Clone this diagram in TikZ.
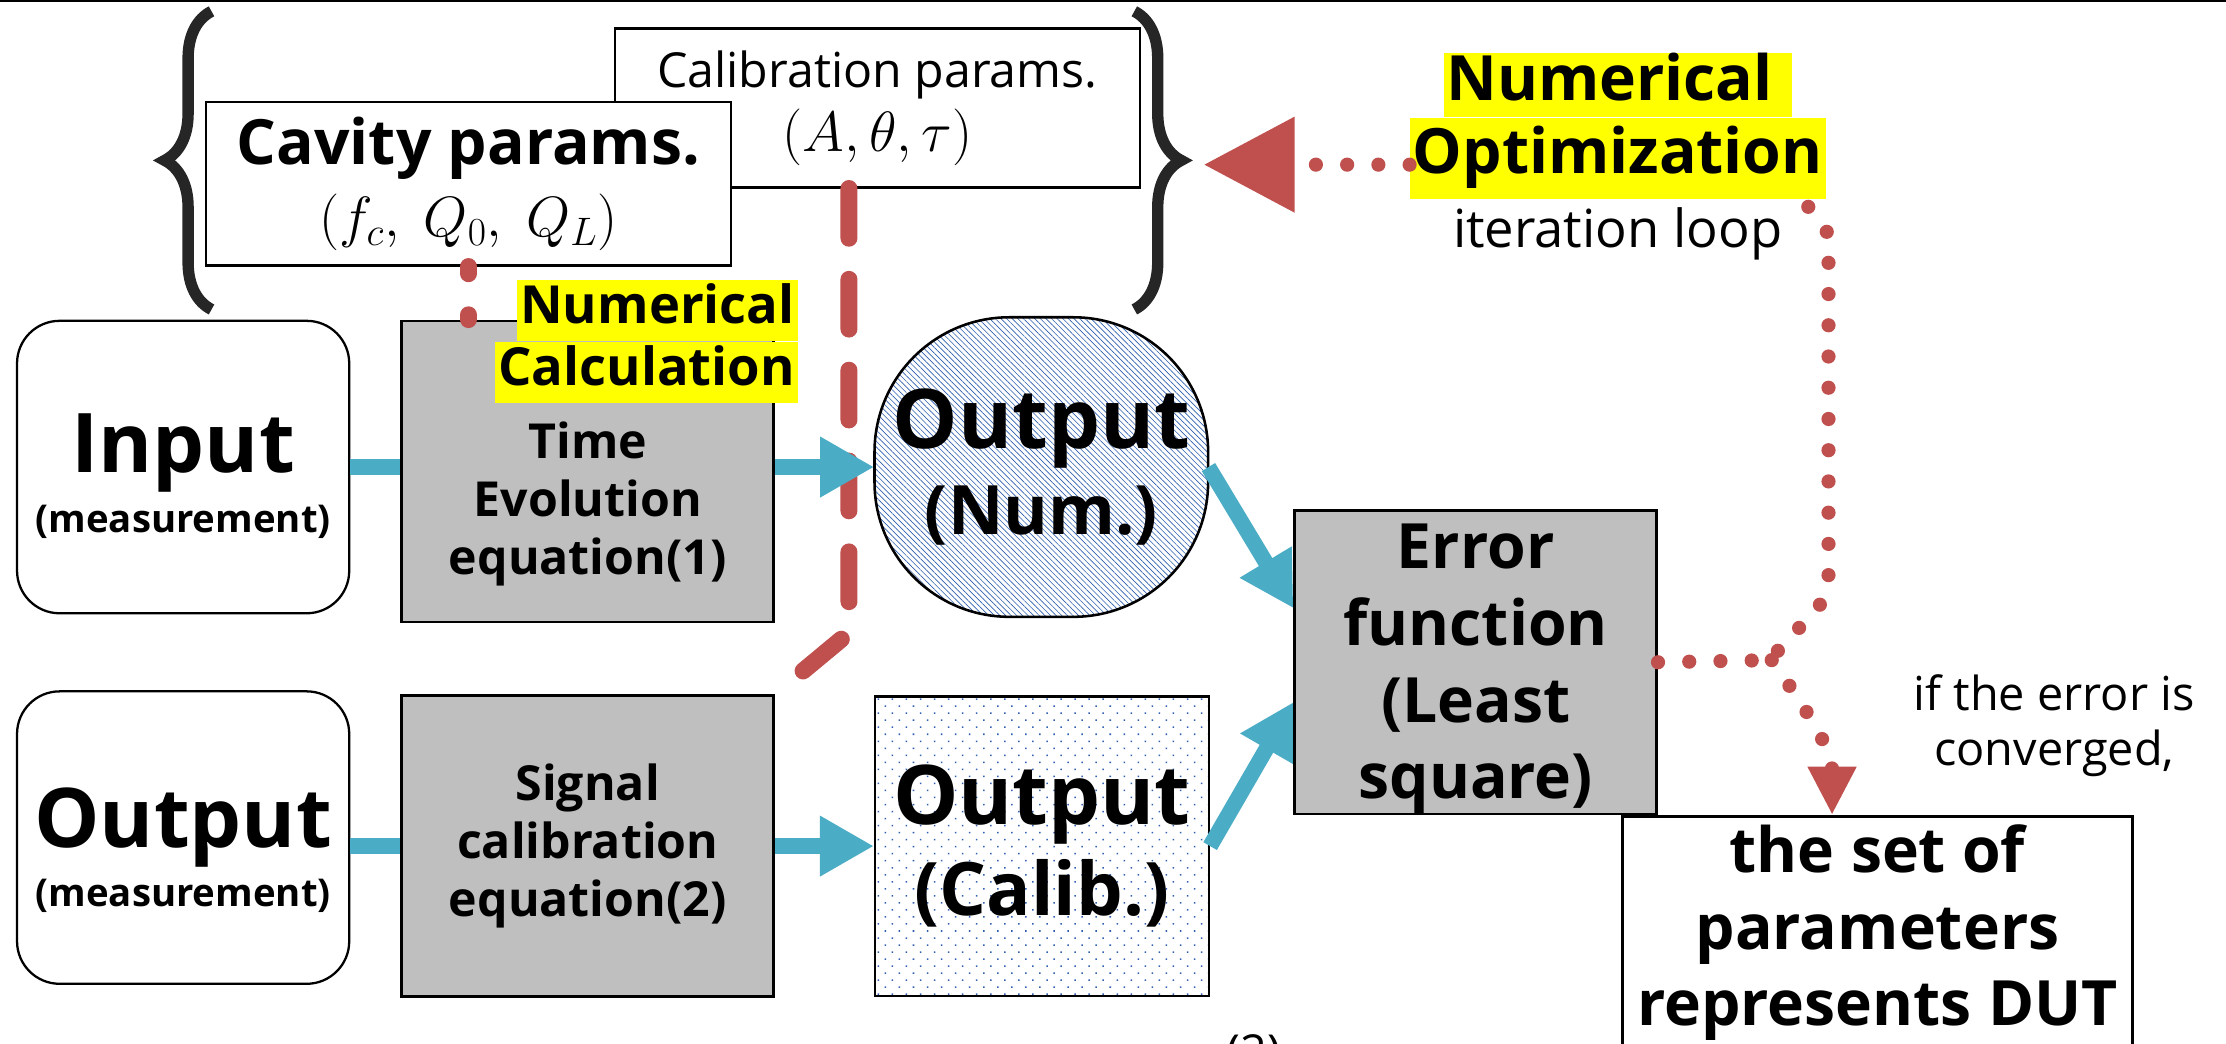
\RequirePackage{fix-cm}
\documentclass[tikz,border=0pt]{standalone}
\usepackage{fontspec}
\setmainfont{Open Sans}
\usepackage{tikz}
\usetikzlibrary{positioning,arrows.meta,patterns.meta,decorations.pathreplacing,calc}

\definecolor{boxgray}{HTML}{BFBFBF}
\definecolor{flowblue}{HTML}{4BACC6}
\definecolor{loopred}{HTML}{C0504D}
\definecolor{hatchblue}{HTML}{2F5FAF}
\definecolor{hlyellow}{HTML}{FFFF00}
\definecolor{bracegray}{HTML}{262626}

\begin{document}
\begin{tikzpicture}[x=1pt, y=1pt,
    every node/.style={align=center, inner sep=0pt},
    txtbox/.style={draw, fill=white, line width=1.6pt},
    inbox/.style={draw, line width=1.6pt, rounded corners=30pt, minimum width=234pt, minimum height=206pt, font=\bfseries\fontsize{27}{42}\selectfont},
    eqbox/.style={draw, line width=1.8pt, fill=boxgray, minimum width=262pt, minimum height=212pt},
    eqtext/.style={font=\bfseries\fontsize{34}{41}\selectfont},
    outbox/.style={draw, line width=1.8pt, minimum width=235pt, minimum height=211pt, font=\bfseries\fontsize{48}{60}\selectfont},
    calchl/.style={fill=hlyellow, inner xsep=2pt, minimum height=43pt, text height=27pt, text depth=8pt, font=\bfseries\fontsize{37}{43}\selectfont},
    opthl/.style={fill=hlyellow, inner xsep=2pt, text height=33pt, text depth=11pt, font=\bfseries\fontsize{44}{50}\selectfont},
    flowline/.style={flowblue, line width=11pt},
    flow/.style={flowline, -{Triangle[length=38pt,width=40pt]}},
    paramline/.style={loopred, line width=12pt, line cap=round, line join=round, dash pattern=on 35pt off 29pt},
    loopdots/.style={loopred, line width=10pt, line cap=round, dash pattern=on 0pt off 22pt},
    bracestyle/.style={bracegray, line width=8pt, decorate, decoration={brace, amplitude=33pt}}
]
    \useasboundingbox (0,0) rectangle (1568,735);
    \draw[line width=1.6pt] (0,734.2) -- (1568,734.2);

    % parameter sets
    \draw[bracestyle] (149,517) -- (149,727);
    \draw[bracestyle] (799,727) -- (799,517);
    \node[txtbox, minimum width=370pt, minimum height=112pt, font=\fontsize{34}{45}\selectfont] (calibpar) at (618,659)
        {Calibration params.\\{\fontsize{40}{45}\selectfont$(A,\theta,\tau)$}};
    \node[txtbox, minimum width=370pt, minimum height=115pt, font=\bfseries\fontsize{44}{51}\selectfont] (cavpar) at (330,605.5)
        {Cavity params.\\{\mdseries\fontsize{40}{51}\selectfont$(f_c,\ Q_0,\ Q_L)$}};

    % measurement chain
    \node[inbox] (input) at (129,406) {{\fontsize{58}{60}\selectfont\rule{0pt}{54pt}Input}\\(measurement)};
    \node[eqbox] (timeeq) at (414,403) {};
    \node[eqtext] (timetxt) at (414,380) {Time\\Evolution\\equation(1)};
    \node[outbox, rounded corners=95pt, pattern={Lines[angle=-45,distance=2.8pt,line width=0.45pt]}, pattern color=hatchblue] (outnum) at (733.5,406)
        {{\fontsize{58}{60}\selectfont Output}\\(Num.)};
    \node[inbox] (outmeas) at (129,145) {{\fontsize{58}{60}\selectfont\rule{0pt}{60pt}Output}\\(measurement)};
    \node[eqbox, eqtext] (sigeq) at (414,139) {Signal\\calibration\\equation(2)};
    \node[outbox, font=\bfseries\fontsize{52}{64}\selectfont, pattern={Dots[angle=45,distance=7pt,radius=0.75pt]}, pattern color=hatchblue] (calibout) at (734,139)
        {{\fontsize{58}{60}\selectfont Output}\\(Calib.)};
    \node[eqbox, minimum width=255pt, minimum height=213pt, font=\bfseries\fontsize{44}{54}\selectfont] (errfn) at (1039.5,268.5)
        {\rule{0pt}{41pt}Error\\function\\(Least\\square)};
    \node[draw, fill=white, line width=1.8pt, minimum width=359pt, minimum height=164pt, font=\bfseries\fontsize{44}{54}\selectfont] (dut) at (1322.5,78)
        {the set of\\parameters\\represents DUT};

    \node[calchl, anchor=north east] (numcalcA) at (562,538) {Numerical};
    \node[calchl, anchor=north east] (numcalcB) at (numcalcA.south east) {Calculation};

    % red parameter lines
    \draw[paramline, dash phase=30pt] (cavpar.south) -- (cavpar.south |- timeeq.north);
    \draw[paramline] ([xshift=-20pt]calibpar.south) -- ++(0,-313) -- (sigeq.north east);

    % signal flow
    \draw[flowline] (input.east) -- (input.east -| timeeq.west);
    \draw[flow] (timeeq.east |- outnum.west) -- (outnum.west);
    \draw[flowline] (outmeas.east |- sigeq.west) -- (sigeq.west);
    \draw[flow] (sigeq.east) -- (calibout.west);
    \draw[flow] (outnum.east) -- ([yshift=38pt]errfn.west);
    \draw[flow] (calibout.east) -- ([yshift=-28pt]errfn.west);

    % optimization loop
    \node[opthl, minimum height=57pt] (numoptB) at (1139.5,623.5) {Optimization};
    \node[opthl, minimum height=45pt, above=0pt of numoptB] (numoptA) {Numerical\ };
    \node[font=\fontsize{37}{44}\selectfont, below=6pt of numoptB] (iterloop) {iteration loop};
    \coordinate (bracetip) at (848,619);
    \coordinate (junc) at (1248,270);
    \draw[loopdots, -{Triangle[length=64pt,width=65pt]}] (numoptB.west |- bracetip) -- (bracetip);
    \draw[loopdots] (errfn.east) -- (junc) to[out=60,in=-90] (1288,330) -- (1288,565) to[out=90,in=-60] (1272,592);
    \draw[loopdots, -{Triangle[length=34pt,width=32pt]}] (junc) to[out=-55,in=90] ([xshift=-32pt]dut.north);
    \node[font=\fontsize{33}{39}\selectfont] (convtxt) at (1447,224) {if the error is\\converged,};

    \node[anchor=base west, font=\fontsize{33}{40}\selectfont] (eqref) at (864,-18) {(2)};
\end{tikzpicture}
\end{document}
